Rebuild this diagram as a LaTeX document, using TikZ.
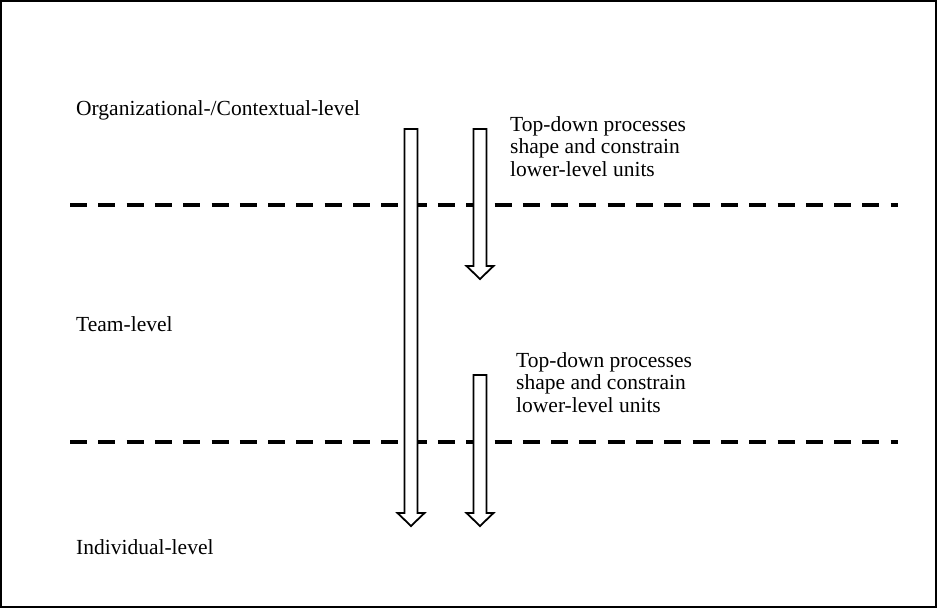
\documentclass[tikz,border=0pt]{standalone}
\usepackage{fontspec}
\setmainfont{Liberation Serif}
\begin{document}
\begin{tikzpicture}[x=1pt,y=-1pt,
  levellabel/.style={anchor=west,inner sep=0pt,font=\fontsize{21.5}{22.8}\selectfont},
  notelabel/.style={anchor=north west,inner sep=0pt,align=left,font=\fontsize{21.5}{22.8}\selectfont},
  divider/.style={line width=3.6pt,dash pattern=on 17pt off 11.3pt},
  blockarrow/.style={draw,line width=1.8pt,fill=white,line join=miter},
  pics/downarrow/.style={code={
    \path[blockarrow] (-6.5,0) -- (6.5,0) -- (6.5,#1-13) -- (13.5,#1-13) -- (0,#1) -- (-13.5,#1-13) -- (-6.5,#1-13) -- cycle;
  }}]
\useasboundingbox (0,0) rectangle (937,608);
\draw[line width=1.5pt] (1,1) rectangle (936,607);
\coordinate (d1a) at (70,205);
\coordinate (d1b) at (898,205);
\coordinate (d2a) at (70,442);
\coordinate (d2b) at (898,442);
\draw[divider] (d1a) -- (d1b);
\draw[divider] (d2a) -- (d2b);
\pic at (411,129) {downarrow=397};
\pic at (480,129) {downarrow=150};
\pic at (480,375) {downarrow=151};
\node[levellabel] (org) at (76,110) {Organizational-/Contextual-level};
\node[levellabel] (team) at (76,324) {Team-level};
\node[levellabel] (ind) at (76,547) {Individual-level};
\node[notelabel] (note1) at (510,116) {Top-down processes\\shape and constrain\\lower-level units};
\node[notelabel] (note2) at (516,352) {Top-down processes\\shape and constrain\\lower-level units};
\end{tikzpicture}
\end{document}
